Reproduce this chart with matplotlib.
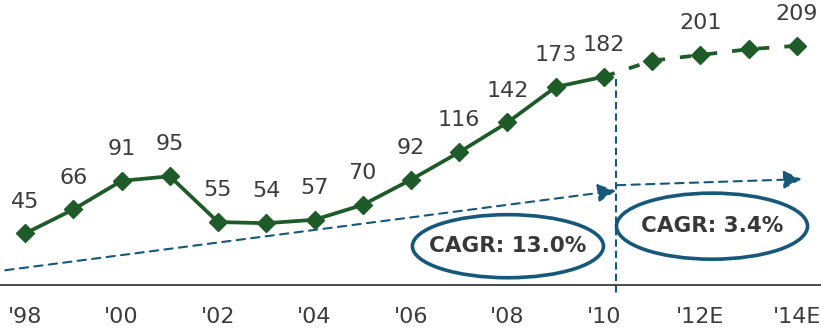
import matplotlib
matplotlib.use("Agg")
import matplotlib.pyplot as plt
from matplotlib.patches import Ellipse

years = ["'98", "'99", "'00", "'01", "'02", "'03", "'04", "'05", "'06", "'07",
         "'08", "'09", "'10", "'11E", "'12E", "'13E", "'14E"]
values = [45, 66, 91, 95, 55, 54, 57, 70, 92, 116, 142, 173, 182, 196, 201, 206, 209]
shown_labels = [True] * 13 + [False, True, False, True]
tick_labels = ["'98", "'00", "'02", "'04", "'06", "'08", "'10", "'12E", "'14E"]
cagr_texts = ["CAGR: 13.0%", "CAGR: 3.4%"]

GREEN = "#1E5B28"
BLUE = "#15587A"
GREY = "#3C3C3C"

fig = plt.figure(figsize=(8.21, 3.28), dpi=100)
ax = fig.add_axes([0, 43 / 328, 1, 285 / 328])

n_actual = 13
x = list(range(len(values)))
ax.plot(x[:n_actual], values[:n_actual], color=GREEN, lw=2.7, marker="D",
        markersize=9, zorder=3, solid_joinstyle="miter")
ax.plot(x[n_actual - 1:], values[n_actual - 1:], color=GREEN, lw=2.7,
        linestyle=(0, (3, 4)), zorder=3)
ax.plot(x[n_actual:], values[n_actual:], color=GREEN, lw=0, marker="D",
        markersize=9, zorder=3)

for xi, v, show in zip(x, values, shown_labels):
    if show:
        ax.annotate(str(v), (xi, v), xytext=(0, 23), textcoords="offset points",
                    ha="center", va="center", fontsize=16, color=GREY)

ax.set_xlim(-0.52, 16.5)
ax.set_ylim(0, 249)

ax.set_xticks(x[::2])
ax.set_xticklabels(tick_labels, fontsize=16, color=GREY)
ax.tick_params(axis="x", length=0, pad=16)
ax.set_yticks([])
for s in ["top", "right", "left"]:
    ax.spines[s].set_visible(False)
ax.spines["bottom"].set_color(GREY)
ax.spines["bottom"].set_linewidth(1.3)

# CAGR arrows
arrow_style = "-|>,head_length=1.1,head_width=0.55"
ax.annotate("", xy=(12.25, 82.4), xytext=(-0.41, 12.9),
            arrowprops=dict(arrowstyle=arrow_style, color=BLUE, lw=1.5,
                            linestyle=(0, (4, 3)), shrinkA=0, shrinkB=0))
ax.annotate("", xy=(16.1, 92.5), xytext=(12.27, 87.2),
            arrowprops=dict(arrowstyle=arrow_style, color=BLUE, lw=1.5,
                            linestyle=(0, (4, 3)), shrinkA=0, shrinkB=0))
ax.plot([12.24, 12.24], [180, -7.3], color=BLUE, lw=1.5,
        linestyle=(0, (3.5, 2)), clip_on=False, zorder=2)

for (cx, cy, h), t in zip([(10.01, 33.9, 55.1), (14.24, 51.4, 57.7)], cagr_texts):
    ax.add_patch(Ellipse((cx, cy), 3.96, h, fill=False, edgecolor=BLUE,
                         lw=2.6, zorder=4))
    ax.text(cx, cy, t, ha="center", va="center", fontsize=15.5,
            fontweight="bold", color="#383838", zorder=5)

fig.savefig("out.png", dpi=100)
